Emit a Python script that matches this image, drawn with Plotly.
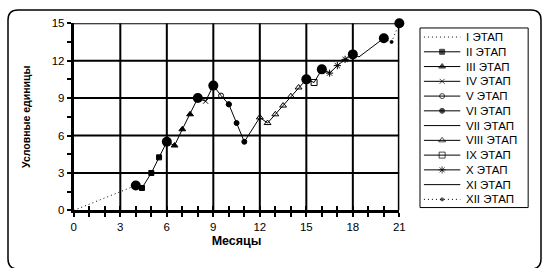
import plotly.graph_objects as go

# ---- data ----
stage_names = ["I ЭТАП", "II ЭТАП", "III ЭТАП", "IV ЭТАП", "V ЭТАП", "VI ЭТАП",
               "VII ЭТАП", "VIII ЭТАП", "IX ЭТАП", "X ЭТАП", "XI ЭТАП", "XII ЭТАП"]
stage1_x = [0, 4];                     stage1_y = [0.0, 2.0]
stage2_x = [4, 4.4, 5, 5.5, 6];        stage2_y = [2.0, 1.8, 3.0, 4.25, 5.5]
stage3_x = [6, 6.5, 7, 7.5, 8];        stage3_y = [5.5, 5.2, 6.5, 7.7, 9.0]
stage4_x = [8, 8.5, 9];                stage4_y = [9.0, 8.75, 10.0]
stage5_x = [9, 9.5, 10];               stage5_y = [10.0, 9.2, 8.5]
stage6_x = [10, 10.5, 11];             stage6_y = [8.5, 7.0, 5.5]
stage7_x = [11, 11.5, 12];             stage7_y = [5.5, 6.5, 7.45]
stage8_x = [12, 12.5, 13, 13.5, 14, 14.5, 15]
stage8_y = [7.45, 7.0, 7.7, 8.4, 9.15, 9.85, 10.5]
stage9_x = [15, 15.5, 16];             stage9_y = [10.5, 10.25, 11.3]
stage10_x = [16, 16.5, 17, 17.5, 18];  stage10_y = [11.3, 11.0, 11.6, 12.1, 12.5]
stage11_x = [18, 18.4, 20];            stage11_y = [12.5, 12.3, 13.8]
stage12_x = [20, 20.5, 21];            stage12_y = [13.8, 13.5, 15.0]
key_x = [4, 6, 8, 9, 15, 16, 18, 20, 21]
key_y = [2.0, 5.5, 9.0, 10.0, 10.5, 11.3, 12.5, 13.8, 15.0]

x_ticks = list(range(0, 22))
x_labels = [str(v) if v % 3 == 0 else "" for v in x_ticks]
y_ticks = [i * 1.5 for i in range(11)]
y_labels = [str(int(v)) if v % 3 == 0 else "" for v in y_ticks]

stages_x = [stage1_x, stage2_x, stage3_x, stage4_x, stage5_x, stage6_x,
            stage7_x, stage8_x, stage9_x, stage10_x, stage11_x, stage12_x]
stages_y = [stage1_y, stage2_y, stage3_y, stage4_y, stage5_y, stage6_y,
            stage7_y, stage8_y, stage9_y, stage10_y, stage11_y, stage12_y]

DOT = "1px,3px"
styles = [
    dict(dash=DOT, symbol=None, size=0),
    dict(dash="solid", symbol="square", size=5),
    dict(dash="solid", symbol="triangle-up", size=6),
    dict(dash="solid", symbol="x-thin-open", size=5),
    dict(dash="solid", symbol="circle-open", size=5),
    dict(dash="solid", symbol="circle", size=5),
    dict(dash="solid", symbol=None, size=0),
    dict(dash="solid", symbol="triangle-up-open", size=6),
    dict(dash="solid", symbol="square-open", size=6),
    dict(dash="solid", symbol="asterisk-open", size=6),
    dict(dash="solid", symbol=None, size=0),
    dict(dash=DOT, symbol="circle", size=3),
]

W, H = 544, 268
BLACK = "#000000"
FONT = "Liberation Sans, Arial, sans-serif"

def px_x(p): return p / W
def px_y(p): return 1 - p / H

fig = go.Figure()

for name, xs, ys, st in zip(stage_names, stages_x, stages_y, styles):
    if st["symbol"] is None:
        fig.add_trace(go.Scatter(x=xs, y=ys, name=name, mode="lines", showlegend=False,
                                 line=dict(color=BLACK, width=1, dash=st["dash"])))
    else:
        fig.add_trace(go.Scatter(x=xs, y=ys, name=name, mode="lines+markers", showlegend=False,
                                 line=dict(color=BLACK, width=1, dash=st["dash"]),
                                 marker=dict(symbol=st["symbol"], size=st["size"], color=BLACK,
                                             line=dict(color=BLACK, width=1))))

fig.add_trace(go.Scatter(x=key_x, y=key_y, mode="markers", showlegend=False,
                         marker=dict(symbol="circle", size=10, color=BLACK), cliponaxis=False))

# overlay axis for the inner half of x cross ticks
fig.add_trace(go.Scatter(x=[0, 21], y=[0, 0], xaxis="x2", mode="lines",
                         line=dict(width=0), showlegend=False, hoverinfo="skip"))

# ---- legend panel (drawn on its own small axes) ----
LEG_L, LEG_R, LEG_T, LEG_B = 424, 534, 23, 211
row_step = 15.45
row0 = 9.5
annotations = []
for k, (name, st) in enumerate(zip(stage_names, styles)):
    yk = row0 + k * row_step
    sx = [4, 22.5, 41]
    sy = [yk, yk, yk]
    if st["symbol"] is None:
        fig.add_trace(go.Scatter(x=sx, y=sy, xaxis="x3", yaxis="y3", mode="lines",
                                 showlegend=False, hoverinfo="skip",
                                 line=dict(color=BLACK, width=1, dash=st["dash"])))
    else:
        fig.add_trace(go.Scatter(x=sx, y=sy, xaxis="x3", yaxis="y3", mode="lines+markers",
                                 showlegend=False, hoverinfo="skip",
                                 line=dict(color=BLACK, width=1, dash=st["dash"]),
                                 marker=dict(symbol=st["symbol"], size=[0, st["size"], 0],
                                             color=BLACK, line=dict(color=BLACK, width=1))))
    annotations.append(dict(xref="x3", yref="y3", x=45, y=yk, text=name, showarrow=False,
                            xanchor="left", yanchor="middle",
                            font=dict(family=FONT, size=11.5, color=BLACK)))

fig.update_layout(
    width=W, height=H,
    margin=dict(l=0, r=0, t=0, b=0),
    paper_bgcolor="white", plot_bgcolor="white",
    font=dict(family=FONT, size=11, color=BLACK),
    showlegend=False,
    xaxis=dict(domain=[px_x(72), px_x(403)], range=[0, 21], tickvals=x_ticks, ticktext=x_labels,
               ticks="outside", ticklen=4, tickwidth=2, tickcolor=BLACK,
               showgrid=False, showline=True, linewidth=3, linecolor=BLACK,
               zeroline=False, tickfont=dict(size=11.5),
               title=dict(text="<b>Месяцы</b>", font=dict(size=12.5), standoff=5)),
    xaxis2=dict(domain=[px_x(72), px_x(403)], range=[0, 21], overlaying="x", anchor="y",
                side="bottom", tickvals=x_ticks, ticks="inside", ticklen=4, tickwidth=2,
                tickcolor=BLACK, showticklabels=False, showgrid=False, showline=False,
                zeroline=False),
    yaxis=dict(domain=[px_y(214), px_y(18)], range=[0, 15], tickvals=y_ticks, ticktext=y_labels,
               ticks="outside", ticklen=4, tickwidth=2, tickcolor=BLACK,
               showgrid=False, showline=True, linewidth=3, linecolor=BLACK,
               zeroline=False, tickfont=dict(size=11.5),
               title=dict(text="<b>Условные единицы</b>", font=dict(size=10.5), standoff=20)),
    xaxis3=dict(domain=[px_x(LEG_L), px_x(LEG_R)], range=[0, LEG_R - LEG_L], anchor="y3",
                visible=False, fixedrange=True),
    yaxis3=dict(domain=[px_y(LEG_B), px_y(LEG_T)], range=[LEG_B - LEG_T, 0], anchor="x3",
                visible=False, fixedrange=True),
    annotations=annotations,
)

shapes = []
for v in range(3, 22, 3):
    shapes.append(dict(type="line", xref="x", yref="y", x0=v, x1=v, y0=0, y1=15,
                       line=dict(color=BLACK, width=2 if v < 21 else 3), layer="below"))
for v in range(3, 16, 3):
    shapes.append(dict(type="line", xref="x", yref="y", x0=0, x1=21, y0=v, y1=v,
                       line=dict(color=BLACK, width=2), layer="below"))
shapes.append(dict(type="rect", xref="paper", yref="paper",
                   x0=px_x(LEG_L), x1=px_x(LEG_R), y0=px_y(LEG_B), y1=px_y(LEG_T),
                   line=dict(color=BLACK, width=1)))
L, R, T, B, r = 5, 538, -4, -263, 10
path = (f"M{L+r},{T} L{R-r},{T} Q{R},{T} {R},{T-r} L{R},{B+r} Q{R},{B} {R-r},{B} "
        f"L{L+r},{B} Q{L},{B} {L},{B+r} L{L},{T-r} Q{L},{T} {L+r},{T} Z")
shapes.append(dict(type="path", xref="paper", yref="paper", xsizemode="pixel", ysizemode="pixel",
                   xanchor=0, yanchor=1, path=path, line=dict(color=BLACK, width=1.5)))
fig.update_layout(shapes=shapes)

fig.write_html("out.html", config={"displayModeBar": False},
               post_script="document.body.style.margin='0px';")
